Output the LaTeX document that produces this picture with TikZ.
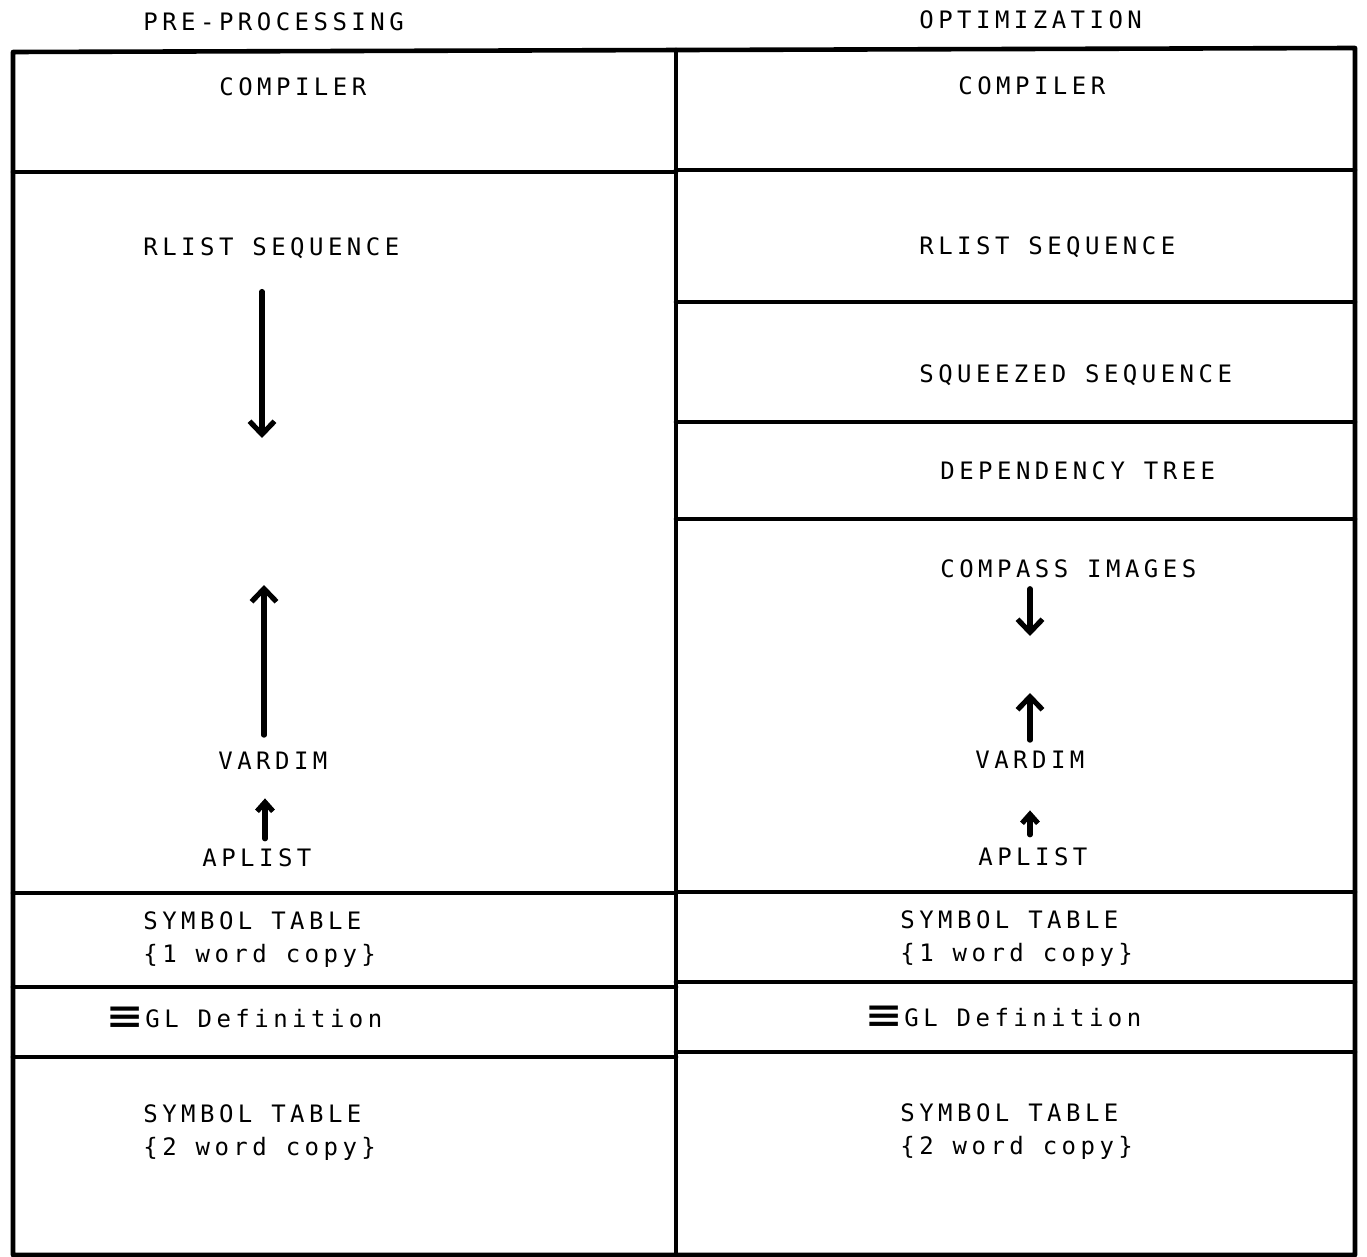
\documentclass[tikz,border=0pt]{standalone}
\usepackage{fontspec}
\usetikzlibrary{arrows.meta}
\newfontfamily\prfont[LetterSpace=18.6]{DejaVu Sans Mono}
\newcommand{\equivmark}{\makebox[18.5pt][l]{\raisebox{-0.5pt}{\scalebox{2.3}[1.5]{\bfseries ≡}}}}
\begin{document}
\begin{tikzpicture}[x=0.5pt,y=-0.5pt,
  frame/.style={line width=2.3pt,line cap=round,line join=round},
  lbl/.style={anchor=base west,inner sep=0pt,align=left,
              font=\prfont\fontsize{12}{16.5}\selectfont},
  arr/.style={line width=2.6pt,line cap=round,
              -{Straight Barb[length=6.5pt,width=12.5pt,line width=2.6pt]}},
  sarr/.style={line width=2.6pt,line cap=round,
              -{Straight Barb[length=4.5pt,width=8pt,line width=2.6pt]}}]
\useasboundingbox (0,0) rectangle (1367,1257);
% frame
\draw[frame] (13,52) -- (1355,48) -- (1355,1255) -- (13,1255) -- cycle;
\draw[frame] (676,50) -- (676,1255);
% left column rows
\draw[frame] (13,172) -- (676,172);
\draw[frame] (13,893) -- (676,893);
\draw[frame] (13,987) -- (676,987);
\draw[frame] (13,1057) -- (676,1057);
% right column rows
\draw[frame] (676,170) -- (1355,170);
\draw[frame] (676,302) -- (1355,302);
\draw[frame] (676,422) -- (1355,422);
\draw[frame] (676,519) -- (1355,519);
\draw[frame] (676,892) -- (1355,892);
\draw[frame] (676,982) -- (1355,982);
\draw[frame] (676,1052) -- (1355,1052);
% headings
\node[lbl] (hpre) at (143,31) {PRE-PROCESSING};
\node[lbl] (hopt) at (919,29) {OPTIMIZATION};
% left column texts
\node[lbl] (compL) at (219,96) {COMPILER};
\node[lbl] (rlistL) at (143,256) {RLIST SEQUENCE};
\node[lbl] (vardimL) at (218,769) {VARDIM};
\node[lbl] (aplistL) at (202,866) {APLIST};
\node[lbl] (symAL) at (143,962) {SYMBOL TABLE\\\{1 word copy\}};
\node[lbl] (glL) at (108,1027) {\equivmark GL Definition};
\node[lbl] (symBL) at (143,1155) {SYMBOL TABLE\\\{2 word copy\}};
% right column texts
\node[lbl] (compR) at (958,95) {COMPILER};
\node[lbl] (rlistR) at (919,255) {RLIST SEQUENCE};
\node[lbl] (squeeze) at (919,383) {SQUEEZED SEQUENCE};
\node[lbl] (deptree) at (940,480) {DEPENDENCY TREE};
\node[lbl] (compass) at (940,577) {COMPASS IMAGES};
\node[lbl] (vardimR) at (975,768) {VARDIM};
\node[lbl] (aplistR) at (978,865) {APLIST};
\node[lbl] (symAR) at (900,961) {SYMBOL TABLE\\\{1 word copy\}};
\node[lbl] (glR) at (867,1026) {\equivmark GL Definition};
\node[lbl] (symBR) at (900,1154) {SYMBOL TABLE\\\{2 word copy\}};
% arrow guide coordinates
\coordinate (dL) at (262,438);
\coordinate (uL) at (264,585);
\coordinate (xaL) at (265,0);
\coordinate (dR) at (1030,636);
\coordinate (uR) at (1030,693);
\coordinate (xR) at (1030,0);
% connectors
\draw[arr,shorten <=16pt] (rlistL.south -| dL) -- (dL);
\draw[arr,shorten <=8pt] (vardimL.north -| uL) -- (uL);
\draw[sarr,shorten <=4.5pt,shorten >=14.5pt] (aplistL.north -| xaL) -- (vardimL.south -| xaL);
\draw[arr,shorten <=5.5pt] (compass.south -| dR) -- (dR);
\draw[arr,shorten <=5pt] (vardimR.north -| uR) -- (uR);
\draw[sarr,shorten <=6pt,shorten >=21pt] (aplistR.north -| xR) -- (vardimR.south -| xR);
\end{tikzpicture}
\end{document}
